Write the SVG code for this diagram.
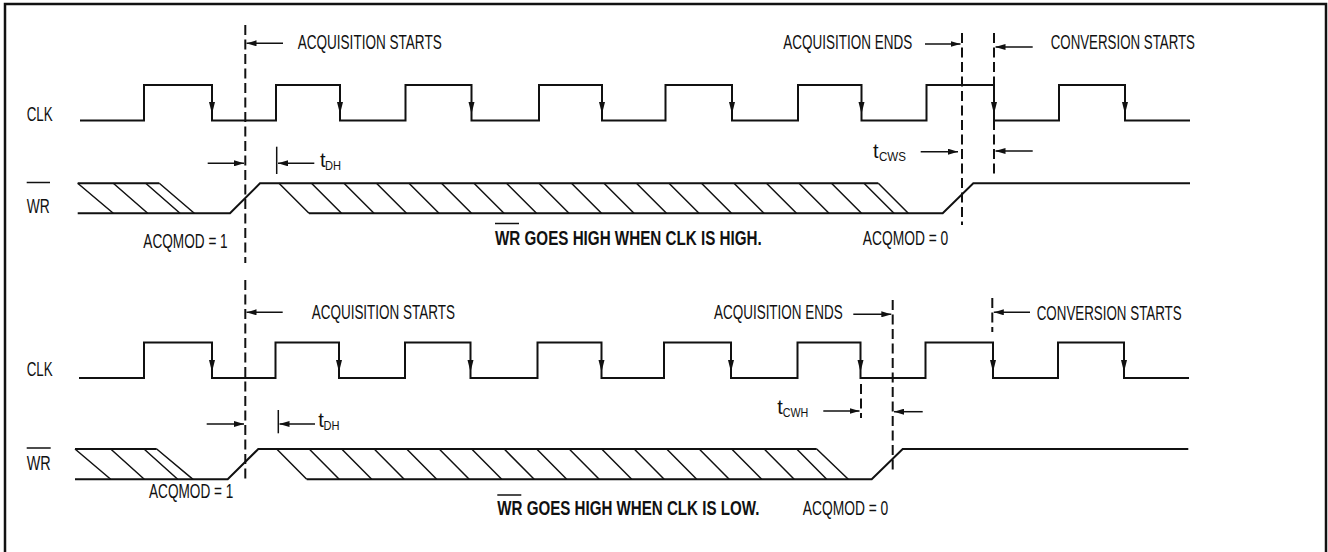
<svg xmlns="http://www.w3.org/2000/svg" xmlns:xlink="http://www.w3.org/1999/xlink" width="1328" height="552" viewBox="0 0 1328 552">
<style>
.sig{fill:none;stroke:#111;stroke-width:2;stroke-linejoin:miter}
.hat{fill:none;stroke:#111;stroke-width:1.5}
.dash{fill:none;stroke:#111;stroke-width:2;stroke-dasharray:10,4.5}
.arr{fill:none;stroke:#111;stroke-width:1.5;marker-end:url(#ah)}
.bar{fill:none;stroke:#111;stroke-width:1.5}
.ovl{fill:none;stroke:#111;stroke-width:1.5}
.t{font-family:"Liberation Sans",Arial,sans-serif;font-size:20px;fill:#111}
.sub{font-family:"Liberation Sans",Arial,sans-serif;font-size:13.5px;fill:#111}
.b{font-family:"Liberation Sans",Arial,sans-serif;font-size:20px;font-weight:bold;fill:#111}
</style>
<defs>
<marker id="ah" viewBox="0 0 10 6" refX="10" refY="3" markerWidth="10" markerHeight="6" markerUnits="userSpaceOnUse" orient="auto"><path d="M0,0 L10,3 L0,6 z" fill="#111"/></marker>
<path id="dn" d="M-3,-12 L3,-12 L0,0 z" fill="#111"/>
</defs>
<rect x="0" y="0" width="1328" height="552" fill="#fff"/>
<path id="border" d="M5,553 V4 H1326 V553" fill="none" stroke="#111" stroke-width="2.5"/>

<!-- TOP PANEL -->
<g id="top-clk">
<path class="sig" d="M80,120.5 H144 V85 H212 V120.5 H276 V85 H340 V120.5 H405.5 V85 H471.5 V120.5 H539 V85 H602 V120.5 H665.5 V85 H732 V120.5 H798 V85 H861.5 V120.5 H926.5 V85 H994 V120.5 H1059 V85 H1125 V120.5 H1190"/>
<use xlink:href="#dn" x="212" y="114"/><use xlink:href="#dn" x="340" y="114"/><use xlink:href="#dn" x="471.5" y="114"/><use xlink:href="#dn" x="602" y="114"/><use xlink:href="#dn" x="732" y="114"/><use xlink:href="#dn" x="861.5" y="114"/><use xlink:href="#dn" x="994" y="114"/><use xlink:href="#dn" x="1125" y="114"/>
<text class="t" x="26.7" y="120.5" textLength="26" lengthAdjust="spacingAndGlyphs">CLK</text>
</g>
<g id="top-wr">
<path class="sig" d="M77.7,183.3 H159.3 M77.7,213.3 H230 L260,183.3 H878.3 M309,213.3 H942.7 L973.3,183.3 H1190"/>
<path class="hat" d="M77.7,183.3 L113.3,213.3 M113.3,183.3 L147.7,213.3 M145.7,183.3 L180,213.3 M159.3,183.3 L194.3,213.3
M279,183.3 l30,30 M311.5,183.3 l30,30 M344,183.3 l30,30 M376.5,183.3 l30,30 M409,183.3 l30,30 M441.5,183.3 l30,30 M474,183.3 l30,30 M506.5,183.3 l30,30 M539,183.3 l30,30 M571.5,183.3 l30,30 M604,183.3 l30,30 M636.5,183.3 l30,30 M669,183.3 l30,30 M701.5,183.3 l30,30 M734,183.3 l30,30 M766.5,183.3 l30,30 M799,183.3 l30,30 M831.5,183.3 l30,30 M864,183.3 l30,30 M878.3,183.3 l30,30"/>
<text class="t" x="26.7" y="213" textLength="23" lengthAdjust="spacingAndGlyphs">WR</text>
<line class="ovl" x1="26.7" y1="182.5" x2="50" y2="182.5"/>
</g>
<g id="top-labels">
<text class="t" x="297.7" y="49.3" textLength="144" lengthAdjust="spacingAndGlyphs">ACQUISITION STARTS</text>
<text class="t" x="783.3" y="49.3" textLength="129" lengthAdjust="spacingAndGlyphs">ACQUISITION ENDS</text>
<text class="t" x="1050.7" y="49.3" textLength="144.3" lengthAdjust="spacingAndGlyphs">CONVERSION STARTS</text>
<text class="t" x="320" y="167" font-size="17">t</text><text class="sub" x="325" y="170" textLength="16" lengthAdjust="spacingAndGlyphs">DH</text>
<text class="t" x="873" y="158" font-size="17">t</text><text class="sub" x="879" y="161" textLength="27" lengthAdjust="spacingAndGlyphs">CWS</text>
<text class="t" x="143.3" y="248" textLength="84.4" lengthAdjust="spacingAndGlyphs">ACQMOD = 1</text>
<text class="t" x="862.7" y="245" textLength="85.6" lengthAdjust="spacingAndGlyphs">ACQMOD = 0</text>
<text class="b" transform="translate(495,245) scale(0.7596,1)" x="0" y="0" textLength="351.1" lengthAdjust="spacingAndGlyphs">WR GOES HIGH WHEN CLK IS HIGH.</text>
<line class="ovl" x1="495" y1="223.5" x2="519" y2="223.5"/>
</g>

<!-- BOTTOM PANEL -->
<g id="bot-clk">
<path class="sig" d="M79,378 H144 V342.5 H212 V378 H275.5 V342.5 H339 V378 H405 V342.5 H470.5 V378 H537.5 V342.5 H601.5 V378 H664 V342.5 H731 V378 H797.5 V342.5 H860.5 V378 H925.5 V342.5 H993 V378 H1058 V342.5 H1124 V378 H1189"/>
<use xlink:href="#dn" x="212" y="372"/><use xlink:href="#dn" x="339" y="372"/><use xlink:href="#dn" x="470.5" y="372"/><use xlink:href="#dn" x="601.5" y="372"/><use xlink:href="#dn" x="731" y="372"/><use xlink:href="#dn" x="860.5" y="372"/><use xlink:href="#dn" x="993" y="372"/><use xlink:href="#dn" x="1124" y="372"/>
<text class="t" x="26.7" y="376" textLength="26" lengthAdjust="spacingAndGlyphs">CLK</text>
</g>
<g id="bot-wr">
<path class="sig" d="M75,449 H156.7 M75,479.3 H227.7 L258.3,449 H816.7 M306.7,479.3 H871.7 L902.7,449 H1188.3"/>
<path class="hat" d="M75,449 L110.7,479.3 M110.7,449 L144.3,479.3 M144,449 L177.7,479.3 M156.7,449 L193,479.3
M276.7,449 l30,30.3 M309.2,449 l30,30.3 M341.7,449 l30,30.3 M374.2,449 l30,30.3 M406.7,449 l30,30.3 M439.2,449 l30,30.3 M471.7,449 l30,30.3 M504.2,449 l30,30.3 M536.7,449 l30,30.3 M569.2,449 l30,30.3 M601.7,449 l30,30.3 M634.2,449 l30,30.3 M666.7,449 l30,30.3 M699.2,449 l30,30.3 M731.7,449 l30,30.3 M764.2,449 l30,30.3 M796.7,449 l30,30.3 M816.7,449 l31.6,30.3"/>
<text class="t" x="26.7" y="470" textLength="24" lengthAdjust="spacingAndGlyphs">WR</text>
<line class="ovl" x1="26.7" y1="448" x2="50.7" y2="448"/>
</g>
<g id="bot-labels">
<text class="t" x="311.7" y="319.3" textLength="143.3" lengthAdjust="spacingAndGlyphs">ACQUISITION STARTS</text>
<text class="t" x="714" y="319.3" textLength="128.7" lengthAdjust="spacingAndGlyphs">ACQUISITION ENDS</text>
<text class="t" x="1036.7" y="320" textLength="145" lengthAdjust="spacingAndGlyphs">CONVERSION STARTS</text>
<text class="t" x="318.3" y="427" font-size="17">t</text><text class="sub" x="323.5" y="430" textLength="16" lengthAdjust="spacingAndGlyphs">DH</text>
<text class="t" x="777.3" y="414" font-size="17">t</text><text class="sub" x="782.7" y="417" textLength="25.6" lengthAdjust="spacingAndGlyphs">CWH</text>
<text class="t" x="149" y="497.7" textLength="84.3" lengthAdjust="spacingAndGlyphs">ACQMOD = 1</text>
<text class="t" x="802.7" y="515" textLength="85.6" lengthAdjust="spacingAndGlyphs">ACQMOD = 0</text>
<text class="b" transform="translate(497.3,515) scale(0.7534,1)" x="0" y="0" textLength="347.8" lengthAdjust="spacingAndGlyphs">WR GOES HIGH WHEN CLK IS LOW.</text>
<line class="ovl" x1="497.3" y1="495" x2="521.3" y2="495"/>
</g>

<g id="connectors">
<line class="dash" x1="245.3" y1="25" x2="245.3" y2="263"/>
<line class="dash" x1="962" y1="33" x2="962" y2="225"/>
<line class="dash" x1="994" y1="33" x2="994" y2="175"/>
<line class="dash" x1="245.3" y1="280" x2="245.3" y2="480"/>
<line class="dash" x1="892.7" y1="300" x2="892.7" y2="470"/>
<line class="dash" x1="992.3" y1="298" x2="992.3" y2="332"/>
<line class="dash" x1="861" y1="384" x2="861" y2="418"/>
<line class="arr" x1="283" y1="43.3" x2="246.5" y2="43.3"/>
<line class="arr" x1="925" y1="44" x2="960.5" y2="44"/>
<line class="arr" x1="1032.7" y1="47" x2="995.5" y2="47"/>
<line class="arr" x1="207.7" y1="163.3" x2="244" y2="163.3"/>
<line class="bar" x1="276.7" y1="146.7" x2="276.7" y2="174"/>
<line class="arr" x1="314.3" y1="163.3" x2="278" y2="163.3"/>
<line class="arr" x1="920.7" y1="151.7" x2="958" y2="151.7"/>
<line class="arr" x1="1032.7" y1="151" x2="995.5" y2="151"/>
<line class="arr" x1="282.7" y1="312.3" x2="246.5" y2="312.3"/>
<line class="arr" x1="853.3" y1="314.3" x2="891.3" y2="314.3"/>
<line class="arr" x1="1030" y1="312.3" x2="993.8" y2="312.3"/>
<line class="arr" x1="206.7" y1="424" x2="244" y2="424"/>
<line class="bar" x1="278.3" y1="410" x2="278.3" y2="433.3"/>
<line class="arr" x1="315" y1="424" x2="279.5" y2="424"/>
<line class="arr" x1="823.3" y1="411" x2="859.5" y2="411"/>
<line class="arr" x1="922.7" y1="411.7" x2="894" y2="411.7"/>
</g>
</svg>
